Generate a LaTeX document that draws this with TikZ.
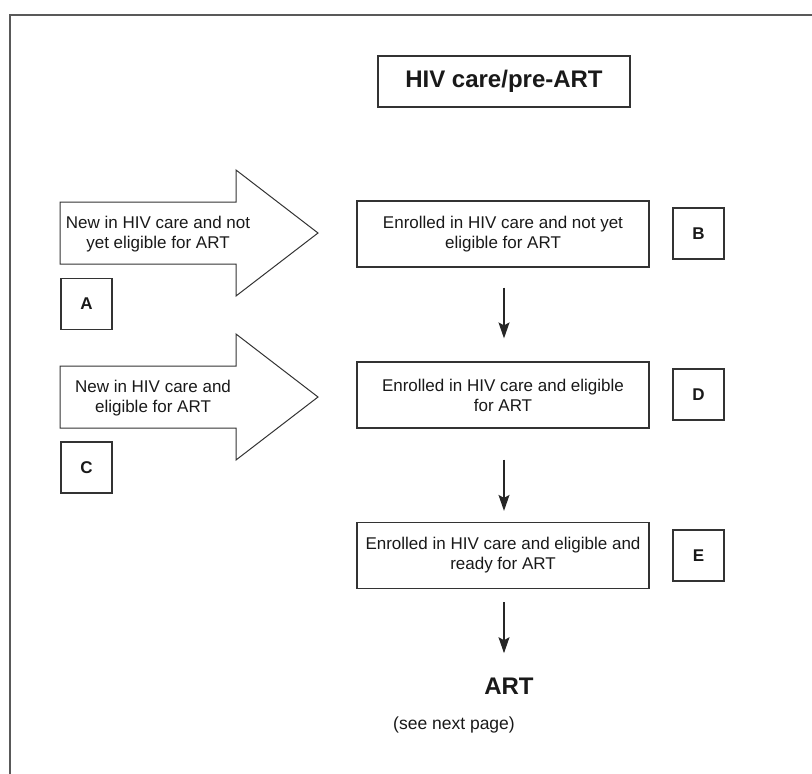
\documentclass[tikz,border=0pt]{standalone}
\usepackage{fontspec}
\setmainfont{Liberation Sans}
\usetikzlibrary{arrows.meta}

\begin{document}
\begin{tikzpicture}[
    x=1pt, y=-1pt,
    every node/.style={text=black!90},
    boxtext/.style={font=\fontsize{17}{20}\selectfont, align=center},
    stagebox/.style={boxtext, draw=black!80, line width=1.2pt, minimum width=292pt, minimum height=66pt},
    letterbox/.style={draw=black!80, line width=1.2pt, minimum size=51pt, font=\fontsize{17}{20}\selectfont\bfseries},
    newarrow/.style={draw=black!80, line width=1pt},
    flowarrow/.style={-{Stealth[length=16pt, width=11pt, inset=3pt]}, line width=1.2pt, black!85}
]
    \useasboundingbox (0,0) rectangle (812,774);

    % Page frame (cut at right and bottom)
    \draw[black!65, line width=1.5pt] (10,774) -- (10,15) -- (812,15);

    % Title
    \node[draw=black!80, line width=1.4pt, minimum width=252pt, minimum height=51pt,
          font=\fontsize{24}{28}\selectfont\bfseries] (title) at (504,81.5) {HIV care/pre-ART};

    % Entry arrows (new patients)
    \draw[newarrow] (60,202) -- (236,202) -- (236,170) -- (318,233) -- (236,296) -- (236,264) -- (60,264) -- cycle;
    \node[boxtext] (newA) at (158,234) {New in HIV care and not\\yet eligible for ART};
    \node[letterbox] (A) at (86.5,304) {A};

    \draw[newarrow] (60,366) -- (236,366) -- (236,334) -- (318,397) -- (236,460) -- (236,428) -- (60,428) -- cycle;
    \node[boxtext] (newC) at (153,398) {New in HIV care and\\eligible for ART};
    \node[letterbox] (C) at (86.5,467.5) {C};

    % Stages in care
    \node[stagebox] (enrolB) at (503,234) {Enrolled in HIV care and not yet\\eligible for ART};
    \node[letterbox] (B) at (698.5,233.5) {B};

    \node[stagebox] (enrolD) at (503,395) {Enrolled in HIV care and eligible\\for ART};
    \node[letterbox] (D) at (698.5,394.5) {D};

    \node[stagebox] (enrolE) at (503,555.5) {Enrolled in HIV care and eligible and\\ready for ART};
    \node[letterbox] (E) at (698.5,555.5) {E};

    % Outcome
    \node[font=\fontsize{24}{28}\selectfont\bfseries] (art) at (509,686) {ART};
    \node[font=\fontsize{17.5}{20}\selectfont] (next) at (454,725) {(see next page)};

    % Flow between stages
    \draw[flowarrow, shorten <=20pt, shorten >=23pt] ([xshift=1pt]enrolB.south) -- ([xshift=1pt]enrolD.north);
    \draw[flowarrow, shorten <=31pt, shorten >=11pt] ([xshift=1pt]enrolD.south) -- ([xshift=1pt]enrolE.north);
    \draw[flowarrow, shorten <=13pt, shorten >=21pt] ([xshift=1pt]enrolE.south) -- ([xshift=1pt]enrolE.south |- art.north);
\end{tikzpicture}
\end{document}
